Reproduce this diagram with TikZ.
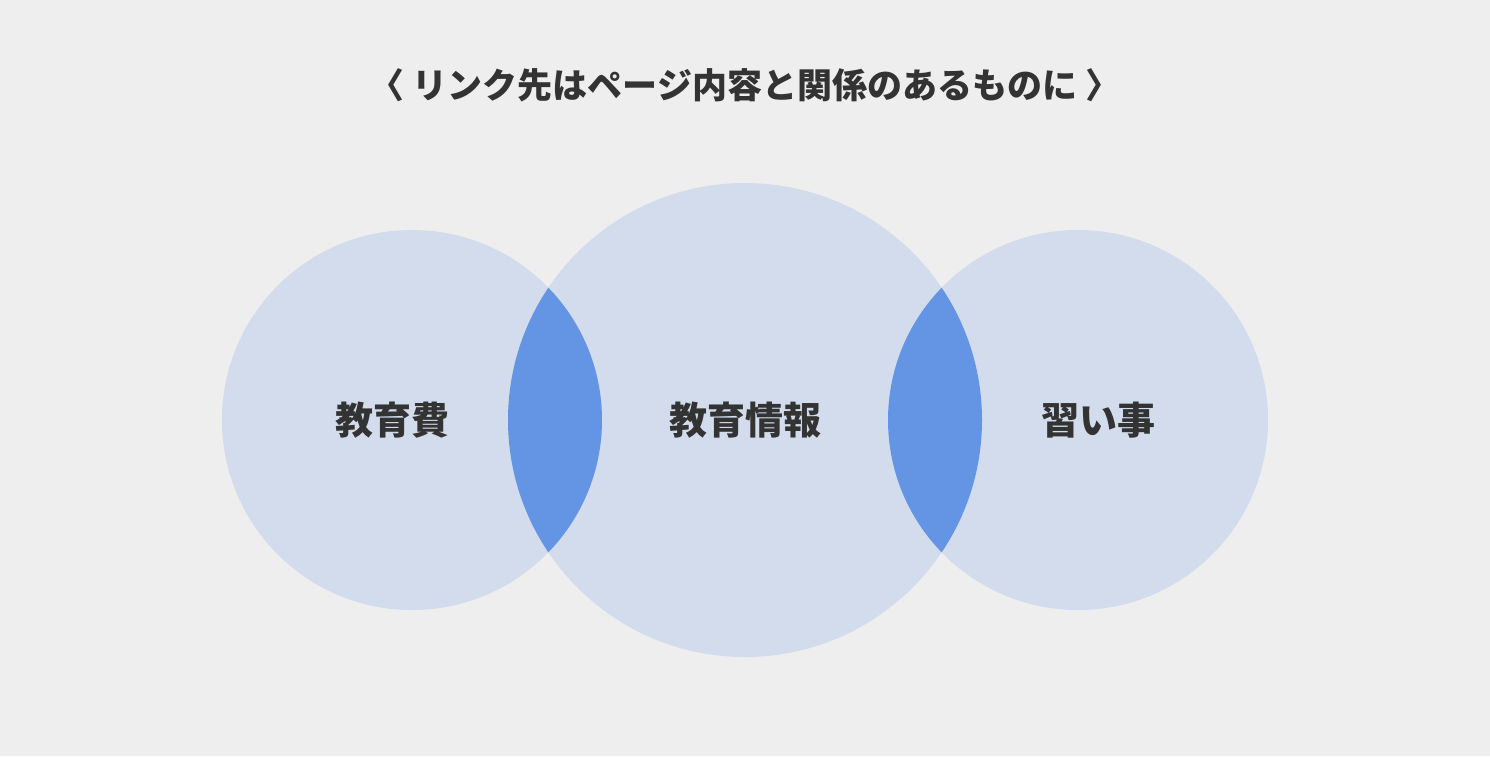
\documentclass[tikz,border=0pt]{standalone}
\usepackage{fontspec}
\newfontfamily\cjk{Noto Sans CJK JP}
\definecolor{bg}{HTML}{EEEEEE}
\definecolor{lt}{HTML}{D2DCEC}
\definecolor{dk}{HTML}{6495E4}
\definecolor{tx}{HTML}{333333}
\begin{document}
\begin{tikzpicture}[x=1pt,y=-1pt,lab/.style={text=tx,font=\cjk\bfseries\fontsize{38}{44}\selectfont}]
\fill[bg] (0,0) rectangle (1490,756);
\useasboundingbox (0,0) rectangle (1490,756);
\fill[lt] (412,420) circle (190pt);
\fill[lt] (1078,420) circle (190pt);
\fill[lt] (745,420) circle (237pt);
\begin{scope}
\clip (412,420) circle (190pt);
\fill[dk] (745,420) circle (237pt);
\end{scope}
\begin{scope}
\clip (1078,420) circle (190pt);
\fill[dk] (745,420) circle (237pt);
\end{scope}
\node[text=tx,font=\cjk\bfseries\fontsize{35}{40}\selectfont] (t) at (745,85) {〈 リンク先はページ内容と関係のあるものに 〉};
\node[lab] (a) at (392,420) {教育費};
\node[lab] (b) at (745,420) {教育情報};
\node[lab] (c) at (1098,420) {習い事};
\end{tikzpicture}
\end{document}
